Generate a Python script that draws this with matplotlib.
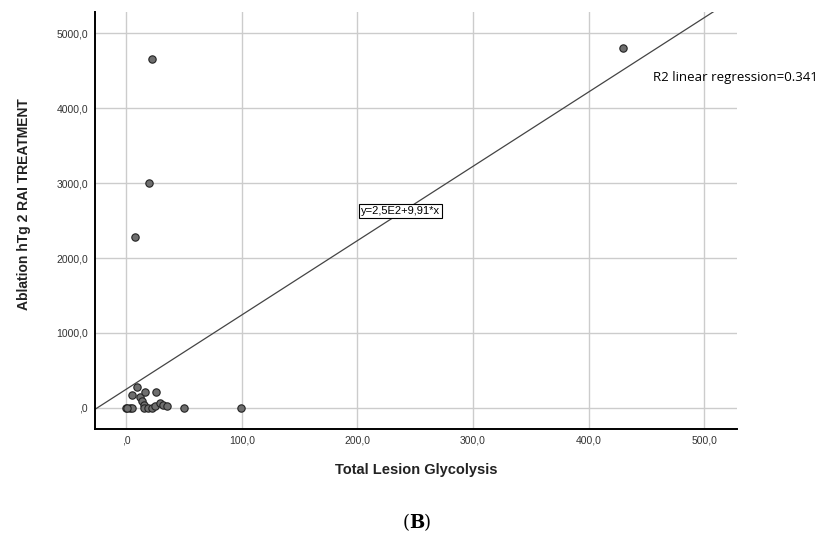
import numpy as np
import matplotlib.pyplot as plt

plt.rcParams['font.family'] = ['Liberation Sans', 'DejaVu Sans']

# data (TLG vs ablation hTg)
tlg = [430, 22, 20, 8, 99, 50, 0, 3, 5, 9, 5, 12, 16, 26, 13.5, 15, 15.6, 19, 22, 25, 29, 32, 35, 1]
htg = [4800, 4650, 3000, 2280, 0, 0, 0, 0, 0, 276, 169, 150, 209, 209, 97, 40, 0, 0, 0, 30, 70, 40, 27, 0]

intercept = 250
slope = 9.91

xticks = [0, 100, 200, 300, 400, 500]
xticklabels = [',0', '100,0', '200,0', '300,0', '400,0', '500,0']
yticks = [0, 1000, 2000, 3000, 4000, 5000]
yticklabels = [',0', '1000,0', '2000,0', '3000,0', '4000,0', '5000,0']

fig = plt.figure(figsize=(8.24, 5.46), dpi=100)
ax = fig.add_axes([0.1153, 0.2143, 0.7787, 0.7637])

ax.set_xlim(-27, 528)
ax.set_ylim(-280, 5280)

ax.grid(True, color='#cccccc', linewidth=1)
ax.set_axisbelow(True)

xl = np.array([-27, 528])
ax.plot(xl, intercept + slope * xl, color='#444444', linewidth=0.9)

ax.scatter(tlg, htg, s=28, facecolor='#6e6e6e', edgecolor='#222222', linewidth=0.8, zorder=3)

ax.set_xticks(xticks)
ax.set_xticklabels(xticklabels)
ax.set_yticks(yticks)
ax.set_yticklabels(yticklabels)
ax.tick_params(length=0, labelsize=7.5, colors='#333333', pad=5)

for s in ['top', 'right']:
    ax.spines[s].set_visible(False)
for s in ['left', 'bottom']:
    ax.spines[s].set_linewidth(1.4)

ax.set_xlabel('Total Lesion Glycolysis', fontsize=10.5, fontweight='bold', color='#222222', labelpad=12)
ax.set_ylabel('Ablation hTg 2 RAI TREATMENT', fontsize=10, fontweight='bold', color='#222222')
ax.yaxis.set_label_coords(-0.1, 0.54)

ax.text(203, 2627, 'y=2,5E2+9,91*x', fontsize=8, va='center', ha='left',
        bbox=dict(boxstyle='square,pad=0.2', facecolor='white', edgecolor='black', linewidth=0.8))

ax.text(456, 4410, 'R2 linear regression=0.341', fontsize=9.5, va='center', ha='left',
        family='Open Sans', clip_on=False)

fig.text(0.497, 0.042, '(', fontsize=13, family='DejaVu Serif', ha='right', va='center')
fig.text(0.497, 0.042, 'B', fontsize=13, family='DejaVu Serif', fontweight='bold', ha='left', va='center')
fig.text(0.514, 0.042, ')', fontsize=13, family='DejaVu Serif', ha='left', va='center')

fig.savefig('out.png', dpi=100)
